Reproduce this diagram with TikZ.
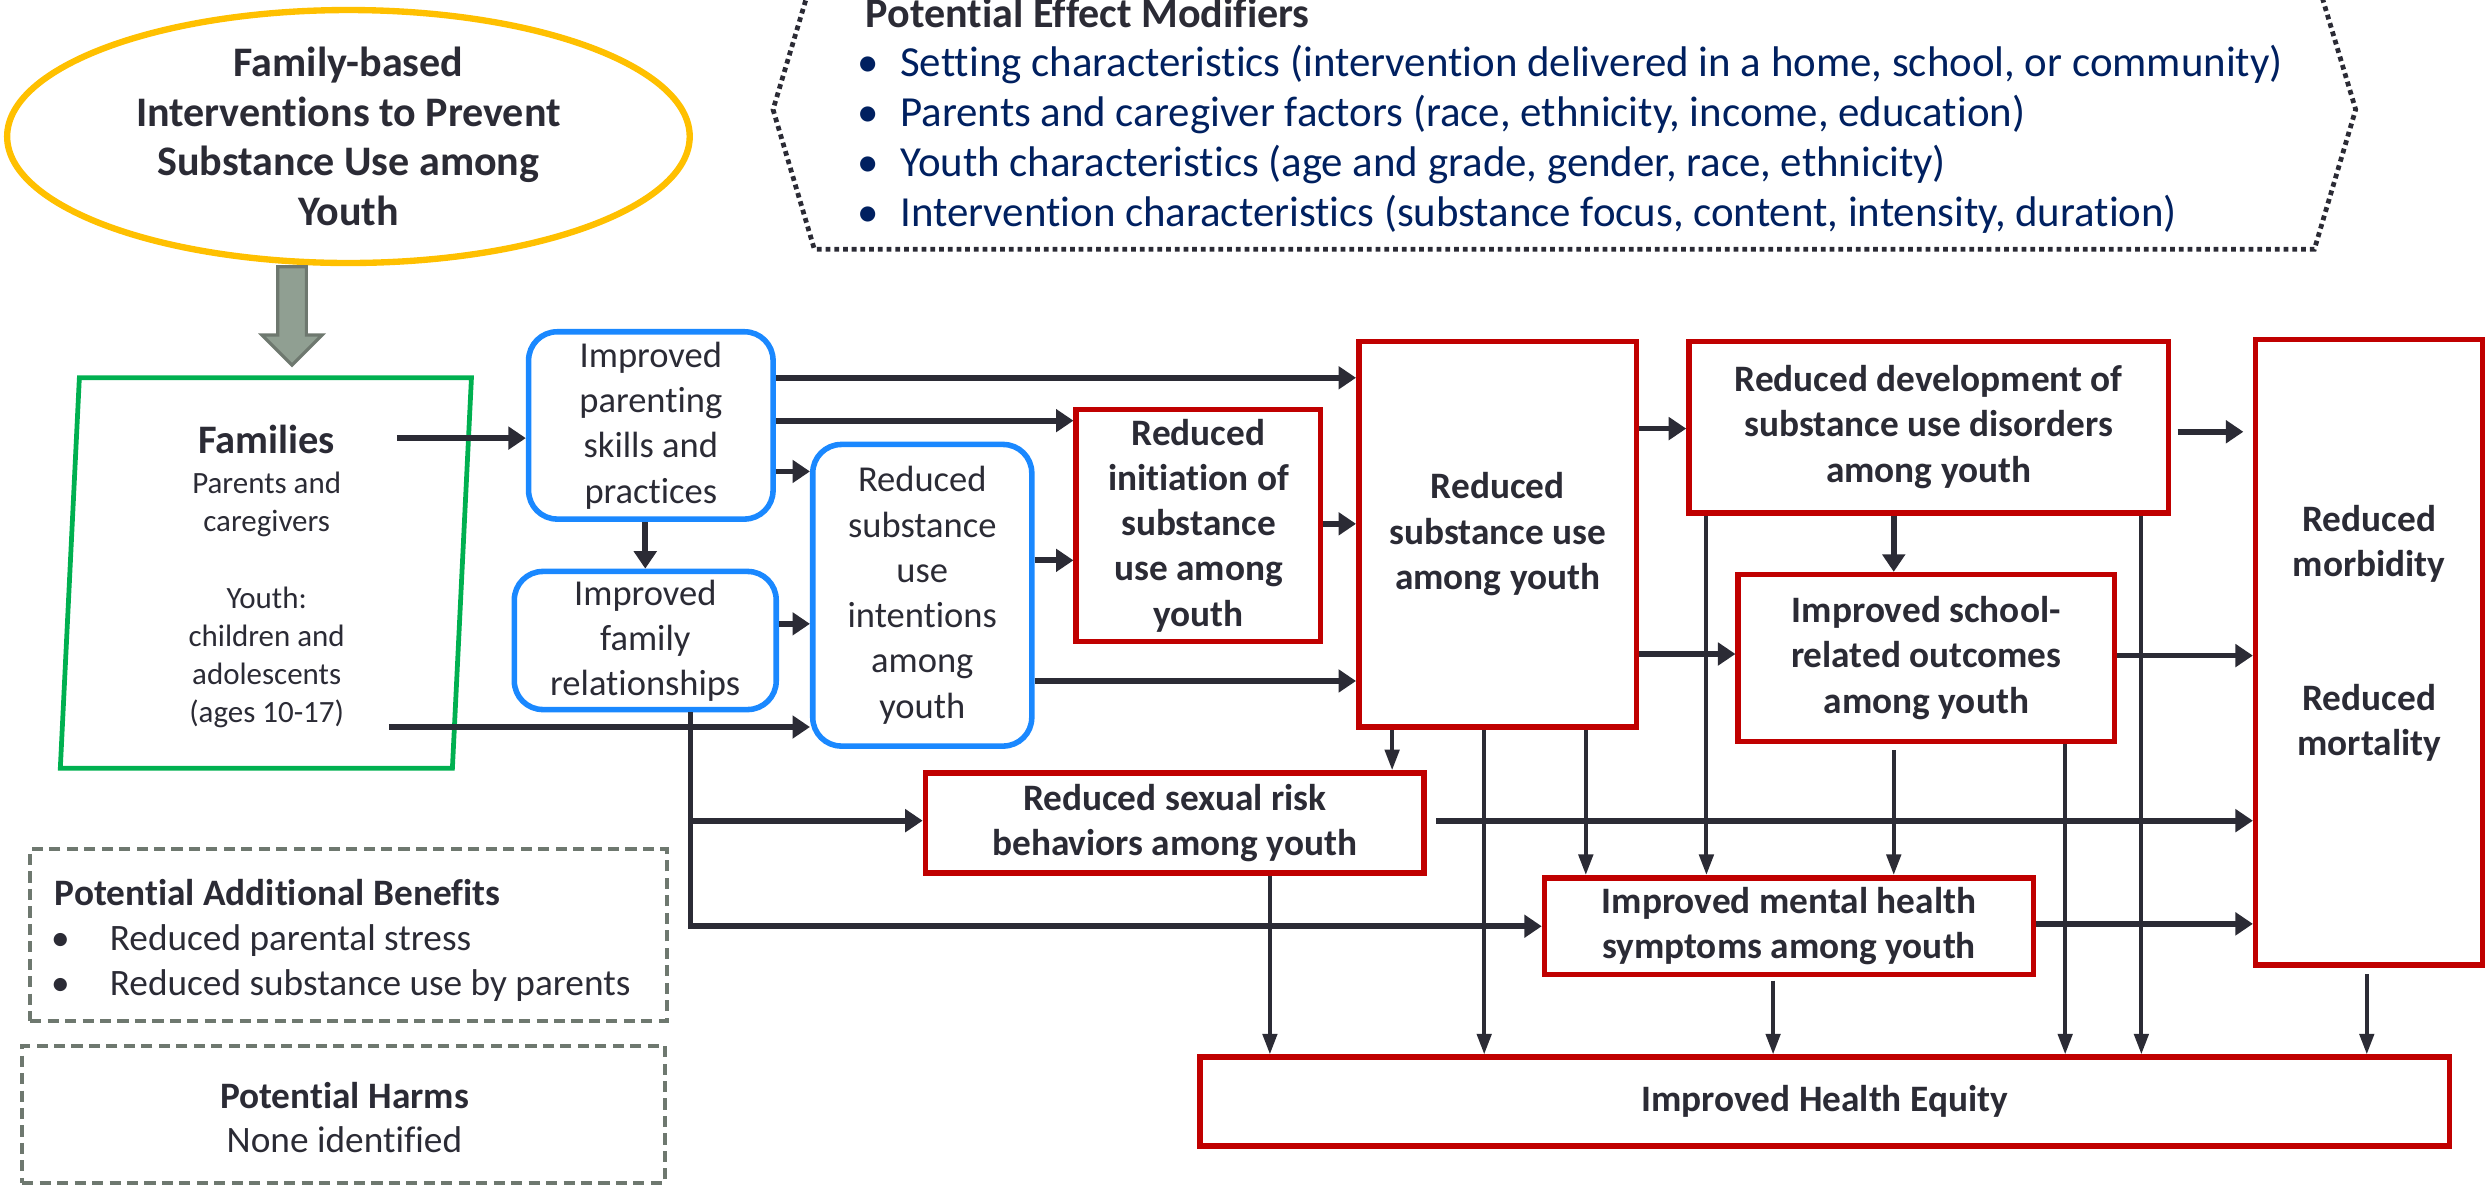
\documentclass[tikz,border=0pt]{standalone}
\usepackage{fontspec}
\setmainfont{Carlito}[Ligatures=NoCommon]
\usetikzlibrary{arrows.meta,shapes.geometric}
\definecolor{dk}{HTML}{2B2B35}
\definecolor{rd}{HTML}{C00000}
\definecolor{bl}{HTML}{1A88FF}
\definecolor{gr}{HTML}{00B050}
\definecolor{gd}{HTML}{FFC000}
\definecolor{nv}{HTML}{002060}
\definecolor{gy}{HTML}{6E786F}
\definecolor{gyf}{HTML}{909F92}
\begin{document}
\begin{tikzpicture}[x=1pt,y=-1pt,
  txt/.style={text=dk,align=center,font=\fontsize{23}{28.5}\selectfont},
  btxt/.style={text=dk,align=center,font=\fontsize{23.5}{28.5}\selectfont\bfseries},
  redbox/.style={draw=rd,line width=3.5pt,fill=white,inner sep=2pt,btxt},
  bluebox/.style={draw=bl,line width=3.5pt,rounded corners=18pt,fill=white,inner sep=2pt,txt},
  arr/.style={draw=dk,line width=3.6pt,-{Triangle[length=11pt,width=14pt]}},
  varr/.style={draw=dk,line width=2.5pt,-{Triangle[length=13pt,width=9pt]}},
  dashbox/.style={draw=gy,line width=2.5pt,dash pattern=on 7pt off 4pt},
  ]
\useasboundingbox (0,0) rectangle (1568,746);
\clip (0,0) rectangle (1568,746);

% intervention ellipse
\node[ellipse,draw=gd,line width=4pt,minimum width=430pt,minimum height=156pt,inner sep=0pt,
      text=dk,align=center,font=\fontsize{26.5}{31.3}\selectfont\bfseries] (ell) at (219.5,86)
  {Family-based\\Interventions to Prevent\\Substance Use among\\Youth};

% fat arrow
\draw[draw=gy,fill=gyf,line width=2pt] (175,168) -- (193,168) -- (193,211) -- (203,211) -- (184,230) -- (165,211) -- (175,211) -- cycle;

% families
\draw[draw=gr,line width=3pt] (50,238) -- (297,238) -- (285,484) -- (38,484) -- cycle;
\node[text=dk,font=\fontsize{25.5}{30}\selectfont\bfseries] (famT) at (168,277) {Families};
\node[text=dk,align=center,font=\fontsize{19.5}{24}\selectfont] (famS) at (168,378)
  {Parents and\\caregivers\\[24pt]Youth:\\children and\\adolescents\\(ages 10-17)};
\coordinate (fo1) at (250,276);
\coordinate (fo2) at (245,458);

% blue boxes
\node[bluebox,minimum width=154pt,minimum height=118pt] (par) at (410,268) {Improved\\parenting\\skills and\\practices};
\node[bluebox,minimum width=165pt,minimum height=87pt] (fam) at (406.5,403.5) {Improved\\family\\relationships};
\node[bluebox,minimum width=138pt,minimum height=190pt] (int) at (581,375) {Reduced\\substance\\use\\intentions\\among\\youth};

% red boxes
\node[redbox,minimum width=154pt,minimum height=146pt] (ini) at (755,331) {Reduced\\initiation of\\substance\\use among\\youth};
\node[redbox,minimum width=175pt,minimum height=243pt] (sub) at (943.5,336.5) {Reduced\\substance use\\among youth};
\node[redbox,minimum width=302pt,minimum height=108pt] (dev) at (1215,269) {Reduced development of\\substance use disorders\\among youth};
\node[redbox,minimum width=237pt,minimum height=105pt] (sch) at (1213.5,414.5) {Improved school-\\related outcomes\\among youth};
\node[redbox,minimum width=143pt,minimum height=394pt] (mor) at (1492.5,411) {};
\node[btxt] (morT) at (1492.5,399) {Reduced\\morbidity\\[56pt]Reduced\\mortality};
\node[redbox,minimum width=314pt,minimum height=63pt] (sex) at (740,518.5) {Reduced sexual risk\\behaviors among youth};
\node[redbox,minimum width=308pt,minimum height=61pt] (men) at (1127,583.5) {Improved mental health\\symptoms among youth};
\node[redbox,minimum width=787pt,minimum height=56pt] (eq) at (1149.5,694) {Improved Health Equity};

% effect modifiers
\draw[draw=dk,line width=3pt,dash pattern=on 3pt off 2.5pt] (513,-18) -- (1458,-18) -- (1484,69) -- (1458,157) -- (513,157) -- (487,69) -- cycle;
\node[anchor=west,text=dk,font=\fontsize{26.5}{30}\selectfont\bfseries] (emT) at (542,8) {Potential Effect Modifiers};
\node[anchor=north west,text=nv,align=left,inner sep=0pt,font=\fontsize{27}{31.5}\selectfont] (emL) at (540,28)
  {\makebox[27pt][l]{•}Setting characteristics (intervention delivered in a home, school, or community)\\
   \makebox[27pt][l]{•}Parents and caregiver factors (race, ethnicity, income, education)\\
   \makebox[27pt][l]{•}Youth characteristics (age and grade, gender, race, ethnicity)\\
   \makebox[27pt][l]{•}Intervention characteristics (substance focus, content, intensity, duration)};

% additional benefits / harms
\node[dashbox,minimum width=401pt,minimum height=108pt] (ben) at (219.5,589) {};
\node[anchor=west,text=dk,font=\fontsize{23.5}{28.5}\selectfont\bfseries] (benT) at (31,562) {Potential Additional Benefits};
\node[anchor=north west,text=dk,align=left,inner sep=0pt,font=\fontsize{23.5}{28.5}\selectfont] (benL) at (31,582)
  {\makebox[38pt][l]{\hspace{1pt}•}Reduced parental stress\\
   \makebox[38pt][l]{\hspace{1pt}•}Reduced substance use by parents};
\node[dashbox,minimum width=405pt,minimum height=86pt] (harm) at (216.5,702) {};
\node[text=dk,align=center,font=\fontsize{23.5}{28}\selectfont] (harmT) at (217,704) {\textbf{Potential Harms}\\None identified};

% connectors
\draw[arr] (fo1) -- (par.west |- fo1);
\draw[arr] (fo2) -- (int.west |- fo2);
\draw[arr] (par.east |- 0,238) -- (sub.west |- 0,238);
\draw[arr] (par.east |- 0,265) -- (ini.west |- 0,265);
\draw[arr] (par.east |- 0,297) -- (int.west |- 0,297);
\draw[arr] (fam.north |- par.south) -- (fam.north);
\draw[arr] (fam.east |- 0,393) -- (int.west |- 0,393);
\draw[arr] (int.east |- 0,353) -- (ini.west |- 0,353);
\draw[arr] (int.east |- 0,429) -- (sub.west |- 0,429);
\draw[arr] (ini.east |- 0,330) -- (sub.west |- 0,330);
\draw[arr] (sub.east |- 0,270) -- (dev.west |- 0,270);
\draw[arr] (sub.east |- 0,412) -- (sch.west |- 0,412);
\draw[arr,shorten <=4pt,shorten >=6pt] (dev.east |- 0,272) -- (mor.west |- 0,272);
\draw[arr] (sch.east |- 0,413) -- (mor.west |- 0,413);
\draw[arr,shorten <=6pt] (sex.east |- 0,517) -- (mor.west |- 0,517);
\draw[arr] (men.east |- 0,582) -- (mor.west |- 0,582);
\draw[arr] (dev.south -| 1193,0) -- (sch.north -| 1193,0);
\draw[arr] (fam.south -| 435,0) |- (men.west);
\draw[arr] (435,517) -- (sex.west |- 0,517);
\draw[varr] (sub.south -| 877,0) -- (sex.north -| 877,0);
\draw[varr] (sub.south -| 935,0) -- (eq.north -| 935,0);
\draw[varr] (sub.south -| 999,0) -- (men.north -| 999,0);
\draw[varr] (dev.south -| 1075,0) -- (men.north -| 1075,0);
\draw[varr] (dev.south -| 1349,0) -- (eq.north -| 1349,0);
\draw[varr,shorten <=4pt] (sch.south -| 1193,0) -- (men.north -| 1193,0);
\draw[varr] (sch.south -| 1301,0) -- (eq.north -| 1301,0);
\draw[varr] (sex.south -| 800,0) -- (eq.north -| 800,0);
\draw[varr,shorten <=2pt] (men.south -| 1117,0) -- (eq.north -| 1117,0);
\draw[varr,shorten <=4pt] (mor.south -| 1491,0) -- (eq.north -| 1491,0);
\end{tikzpicture}
\end{document}
